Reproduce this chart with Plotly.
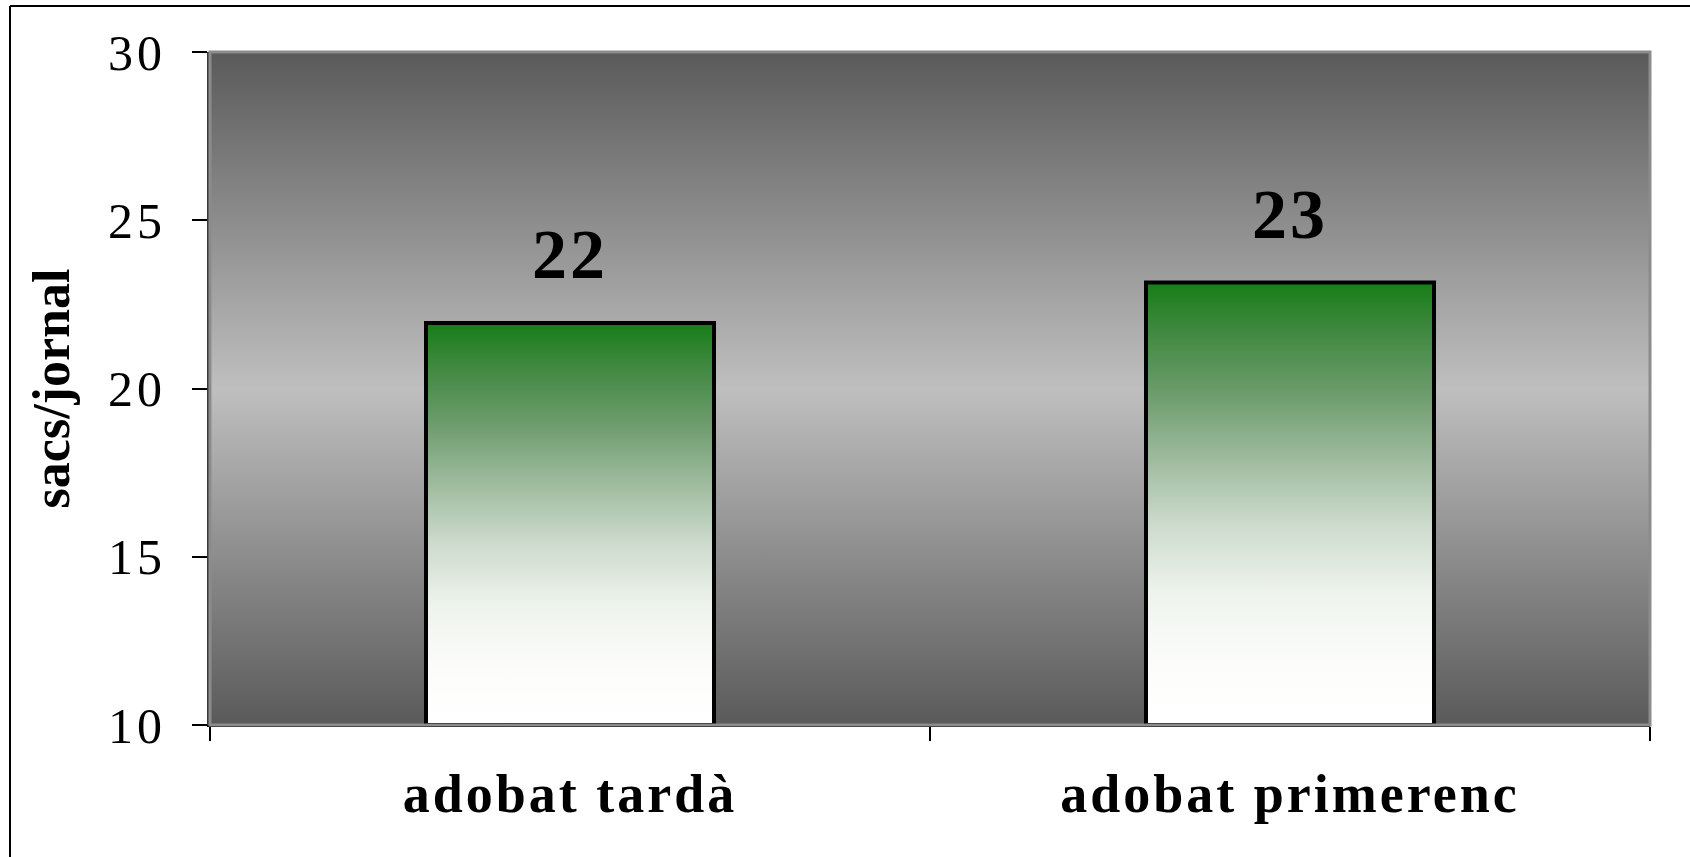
import plotly.graph_objects as go

# data
CATEGORIES = ["adobat tardà", "adobat primerenc"]
VALUES = [21.95, 23.15]
Y_TITLE = "sacs/jornal"
Y_MIN, Y_MAX, Y_STEP = 10, 30, 5

FONT = "Liberation Serif"
W, H = 1690, 857
M_L, M_R, M_T, M_B = 210, 40, 52, 132
BAR_WIDTH = 0.4

BG_SCALE = [[0, "#5a5a5a"], [0.5, "#bfbfbf"], [1, "#5a5a5a"]]
BAR_SCALE = [[0, "#ffffff"], [0.15, "#fbfcfa"], [0.3, "#eef3ec"], [0.45, "#cddbcd"],
             [0.6, "#9fbb9f"], [0.75, "#6c9c6c"], [0.9, "#3d873d"], [1, "#167e16"]]

xs = list(range(len(CATEGORIES)))
x_lo, x_hi = -0.5, len(CATEGORIES) - 0.5

fig = go.Figure()

# gradient plot background
fig.add_trace(go.Scatter(
    x=[x_lo, x_hi, x_hi, x_lo, x_lo], y=[Y_MIN, Y_MIN, Y_MAX, Y_MAX, Y_MIN],
    mode="lines", line=dict(width=0), fill="toself",
    fillgradient=dict(type="vertical", colorscale=BG_SCALE),
    hoverinfo="skip", showlegend=False))

# bars: plotly bars can't take a gradient, so each bar is a filled outline
for x, v, name in zip(xs, VALUES, CATEGORIES):
    x0, x1 = x - BAR_WIDTH / 2, x + BAR_WIDTH / 2
    fig.add_trace(go.Scatter(
        x=[x0, x1, x1, x0, x0], y=[Y_MIN, Y_MIN, v, v, Y_MIN],
        mode="lines", line=dict(width=4, color="black"), fill="toself",
        fillgradient=dict(type="vertical", colorscale=BAR_SCALE),
        name=name, hoveron="fills", showlegend=False))

for x, v in zip(xs, VALUES):
    fig.add_annotation(x=x, y=v, text=f"{v:.0f}", showarrow=False,
                       yanchor="bottom", yshift=28,
                       font=dict(family=FONT, size=70, color="black", weight="bold"))

# plot frame and outer border
px_w = W - M_L - M_R
px_h = H - M_T - M_B
fig.add_shape(type="rect", xref="paper", yref="paper", x0=0, x1=1, y0=0, y1=1,
              line=dict(color="#8c8c8c", width=3), layer="above")
top_y = (H - M_B - 6) / px_h
left_x = (10 - M_L) / px_w
fig.add_shape(type="line", xref="paper", yref="paper", x0=left_x, x1=(W - M_L) / px_w,
              y0=top_y, y1=top_y, line=dict(color="black", width=2))
fig.add_shape(type="line", xref="paper", yref="paper", x0=left_x, x1=left_x,
              y0=top_y, y1=-M_B / px_h, line=dict(color="black", width=2))

fig.update_xaxes(
    range=[x_lo, x_hi], tickmode="array", tickvals=xs, ticktext=CATEGORIES,
    ticks="", showgrid=False, zeroline=False,
    showline=True, linecolor="black", linewidth=2,
    ticklabelstandoff=20,
    tickfont=dict(family=FONT, size=54, color="black", weight="bold"),
    minor=dict(tickmode="array", tickvals=[x_lo + i for i in range(len(CATEGORIES) + 1)],
               ticks="outside", ticklen=14, tickcolor="black", tickwidth=1.5, showgrid=False))

fig.update_yaxes(
    range=[Y_MIN, Y_MAX], dtick=Y_STEP, tick0=Y_MIN,
    ticks="outside", ticklen=15, tickcolor="black", tickwidth=1.5,
    showgrid=False, zeroline=False,
    showline=True, linecolor="#3a3a3a", linewidth=3,
    ticklabelstandoff=16,
    tickfont=dict(family=FONT, size=50, color="black"),
    title=dict(text=Y_TITLE, standoff=30,
               font=dict(family=FONT, size=52, color="black", weight="bold")))

fig.update_layout(
    width=W, height=H,
    margin=dict(l=M_L, r=M_R, t=M_T, b=M_B, autoexpand=False),
    paper_bgcolor="white", plot_bgcolor="white",
    showlegend=False)

# no page margin, and the letter-spaced look of the original labels
post = """
document.body.style.margin = '0px';
var st = document.createElement('style');
st.textContent = '.xtick text {letter-spacing: 3px;} .ytick text {letter-spacing: 4px;} .annotation-text {letter-spacing: 3px;}';
document.head.appendChild(st);
"""
fig.write_html("out.html", post_script=post, config={"displayModeBar": False})
